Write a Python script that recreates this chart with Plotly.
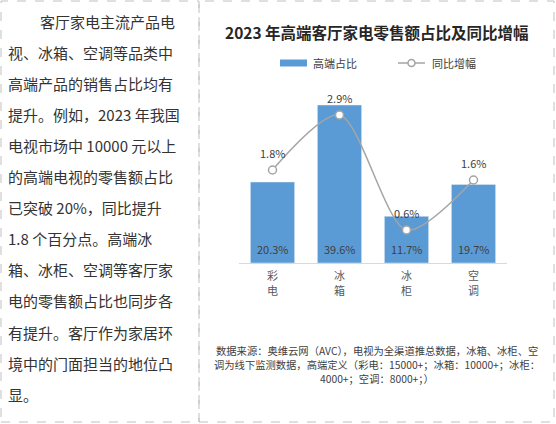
import plotly.graph_objects as go

# chart data
categories = ["彩电", "冰箱", "冰柜", "空调"]
tick_labels = ["彩<br>电", "冰<br>箱", "冰<br>柜", "空<br>调"]
share = [20.3, 39.6, 11.7, 19.7]        # 高端占比 (%)
growth = [1.8, 2.9, 0.6, 1.6]           # 同比增幅 (%)

title = "2023 年高端客厅家电零售额占比及同比增幅"
legend_names = ["高端占比", "同比增幅"]
note_lines = [
    "数据来源：奥维云网（AVC），电视为全渠道推总数据，冰箱、冰柜、空",
    "调为线下监测数据，高端定义（彩电：15000+；冰箱：10000+；冰柜：",
    "4000+；空调：8000+；）",
]
left_lines = [
    "客厅家电主流产品电",
    "视、冰箱、空调等品类中",
    "高端产品的销售占比均有",
    "提升。例如，2023 年我国",
    "电视市场中 10000 元以上",
    "的高端电视的零售额占比",
    "已突破 20%，同比提升",
    "1.8 个百分点。高端冰",
    "箱、冰柜、空调等客厅家",
    "电的零售额占比也同步各",
    "有提升。客厅作为家居环",
    "境中的门面担当的地位凸",
    "显。",
]

W, H = 556, 424
FONT = "Noto Sans CJK SC"
BLUE = "#5B9BD5"
GREY = "#A5A5A5"
TXT = "#404040"


def px(x):
    return x / W


def py(y):
    return 1 - y / H


bars = go.Bar(
    x=categories, y=share, name=legend_names[0],
    marker=dict(color=BLUE), width=0.66, showlegend=False,
)
line = go.Scatter(
    x=categories, y=growth, name=legend_names[1], yaxis="y2",
    mode="lines+markers",
    line=dict(color=GREY, width=1.5, shape="spline", smoothing=0.8),
    marker=dict(size=8, color="white", line=dict(color=GREY, width=1.5)),
    showlegend=False,
)

fig = go.Figure(data=[bars, line])

annotations = []
# labels on bars (near the bottom) and above line points
for c, v in zip(categories, share):
    annotations.append(dict(x=c, y=0, xref="x", yref="y", text=f"{v}%", showarrow=False,
                            yanchor="middle", yshift=14, font=dict(size=11, color=TXT, family=FONT)))
for c, v in zip(categories, growth):
    annotations.append(dict(x=c, y=v, xref="x", yref="y2", text=f"{v}%", showarrow=False,
                            yanchor="middle", yshift=17, font=dict(size=11, color=TXT, family=FONT)))

# title
annotations.append(dict(x=px(377), y=py(32), xref="paper", yref="paper", text=f"<b>{title}</b>",
                        showarrow=False, xanchor="center", yanchor="middle",
                        font=dict(size=15.5, color="#262626", family=FONT)))
# legend text
annotations.append(dict(x=px(311), y=py(63), xref="paper", yref="paper", text=legend_names[0],
                        showarrow=False, xanchor="left", yanchor="middle",
                        font=dict(size=11, color=TXT, family=FONT)))
annotations.append(dict(x=px(430), y=py(63), xref="paper", yref="paper", text=legend_names[1],
                        showarrow=False, xanchor="left", yanchor="middle",
                        font=dict(size=11, color=TXT, family=FONT)))
# source note
for i, s in enumerate(note_lines):
    annotations.append(dict(x=px(377), y=py(350 + i * 14), xref="paper", yref="paper", text=s,
                            showarrow=False, xanchor="center", yanchor="middle",
                            font=dict(size=10.3, color=TXT, family=FONT)))
# left text column
for i, s in enumerate(left_lines):
    x0 = 38 if i == 0 else 6
    annotations.append(dict(x=px(x0), y=py(21 + i * 31.1), xref="paper", yref="paper", text=s,
                            showarrow=False, xanchor="left", yanchor="middle",
                            font=dict(size=15, color="#333333", family=FONT)))

shapes = [
    # panel borders
    dict(type="rect", xref="paper", yref="paper", x0=px(1), x1=px(199), y0=py(422), y1=py(1),
         line=dict(color="#C0C0C0", width=1, dash="dash")),
    dict(type="rect", xref="paper", yref="paper", x0=px(199), x1=px(554), y0=py(422), y1=py(1),
         line=dict(color="#C0C0C0", width=1, dash="dash")),
    # legend swatches
    dict(type="rect", xref="paper", yref="paper", x0=px(280), x1=px(307), y0=py(66.5), y1=py(59.5),
         fillcolor=BLUE, line=dict(width=0)),
    dict(type="line", xref="paper", yref="paper", x0=px(398), x1=px(425), y0=py(63), y1=py(63),
         line=dict(color=GREY, width=1.5)),
    dict(type="circle", xref="paper", yref="paper", x0=px(408), x1=px(415), y0=py(66.5), y1=py(59.5),
         fillcolor="white", line=dict(color=GREY, width=1.5)),
]

fig.update_layout(
    width=W, height=H,
    margin=dict(l=0, r=0, t=0, b=0),
    paper_bgcolor="white", plot_bgcolor="white",
    font=dict(family=FONT, color=TXT),
    xaxis=dict(domain=[px(239), px(507)], showline=True, linecolor="#D9D9D9", linewidth=1,
               ticks="", showgrid=False, tickmode="array", tickvals=categories, ticktext=tick_labels,
               ticklabelstandoff=3,
               tickfont=dict(size=11, color="#595959", family=FONT)),
    yaxis=dict(domain=[py(263), py(95)], range=[0, 168 / 3.99], visible=False, showgrid=False),
    yaxis2=dict(overlaying="y", range=[-0.06, 3.3], visible=False, showgrid=False),
    annotations=annotations,
    shapes=shapes,
    showlegend=False,
)

# page body has a default 8px margin; drop it so the figure sits at the corner
fig.write_html("out.html", config={"displayModeBar": False},
               post_script="document.body.style.margin='0';")
